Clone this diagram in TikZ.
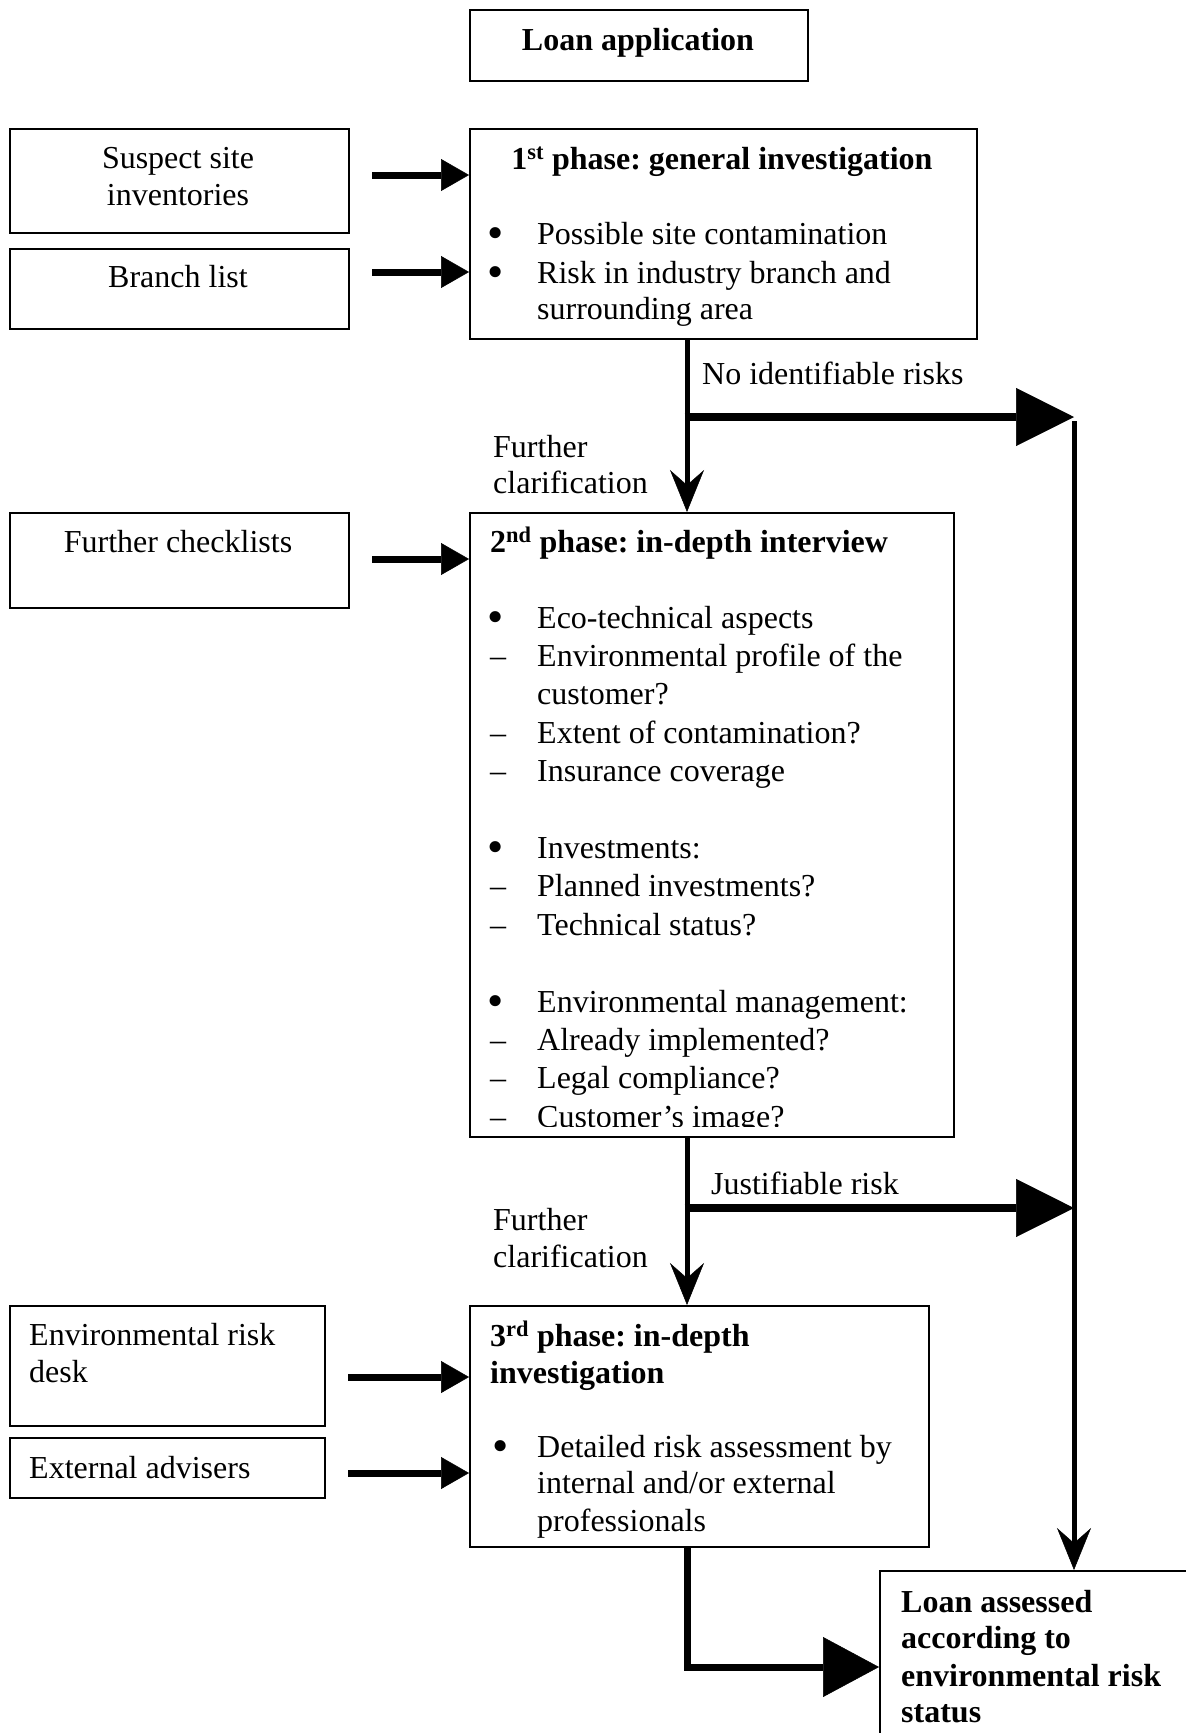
\documentclass[tikz,border=0pt]{standalone}
\usepackage{fontspec}
\usepackage{graphicx}
\setmainfont{Liberation Serif}
\usetikzlibrary{arrows.meta}
\frenchspacing
\newcommand{\bigbullet}{\scalebox{1.45}{•}}

\begin{document}
\begin{tikzpicture}[x=1pt,y=-1pt,
  box/.style={draw, line width=2pt, inner sep=0pt, anchor=north west},
  txt/.style={inner sep=0pt, anchor=base west, font=\fontsize{32}{38.4}\selectfont},
  ctxt/.style={txt, anchor=base},
  btxt/.style={txt, font=\fontsize{32}{38.4}\selectfont\bfseries},
  cbtxt/.style={btxt, anchor=base},
  bul/.style={txt, yshift=-4pt},
  feed/.style={line width=7pt, -{Triangle[length=28pt,width=32pt,line width=0.5pt]}},
  big/.style={line width=8pt, -{Triangle[length=58pt,width=58pt,line width=0.5pt]}},
  down/.style={line width=5pt, -{Stealth[length=42pt,width=34pt,inset=15pt,line width=0.5pt]}},
]
\useasboundingbox (0,0) rectangle (1186,1733);
\clip (0,0) rectangle (1186,1733);

% boxes
\node[box, minimum width=338pt, minimum height=71pt]  (app) at (469,9) {};
\node[box, minimum width=339pt, minimum height=104pt] (sus) at (9,128) {};
\node[box, minimum width=339pt, minimum height=80pt]  (bra) at (9,248) {};
\node[box, minimum width=507pt, minimum height=210pt] (p1)  at (469,128) {};
\node[box, minimum width=339pt, minimum height=95pt]  (chk) at (9,512) {};
\node[box, minimum width=484pt, minimum height=624pt] (p2)  at (469,512) {};
\node[box, minimum width=315pt, minimum height=120pt] (erd) at (9,1305) {};
\node[box, minimum width=315pt, minimum height=60pt]  (ext) at (9,1437) {};
\node[box, minimum width=459pt, minimum height=241pt] (p3)  at (469,1305) {};
\node[box, minimum width=340pt, minimum height=200pt] (fin) at (879,1570) {};

% box texts
\node[cbtxt] (tapp) at (638,50) {Loan application};
\node[ctxt] (tsus1) at (178,168) {Suspect site};
\node[ctxt] (tsus2) at (178,205) {inventories};
\node[ctxt] (tbra) at (178,287) {Branch list};
\node[cbtxt] (tp1) at (722,169) {1\textsuperscript{st} phase: general investigation};
\node[bul] (b11) at (487,244) {\bigbullet};
\node[txt] (t11) at (537,244) {Possible site contamination};
\node[bul] (b12) at (487,283) {\bigbullet};
\node[txt] (t12) at (537,283) {Risk in industry branch and};
\node[txt] (t13) at (537,319) {surrounding area};

\node[ctxt] (tchk) at (178,552) {Further checklists};
\node[btxt] (tp2) at (490,552) {2\textsuperscript{nd} phase: in-depth interview};
\begin{scope}
  \clip (470,513) rectangle (952,1126);
  % list items: line index / mark (1 bullet, 2 dash, 0 none) / text
  \foreach \k/\m/\t [count=\i] in {
      0/1/Eco-technical aspects,
      1/2/Environmental profile of the,
      2/0/customer?,
      3/2/Extent of contamination?,
      4/2/Insurance coverage,
      6/1/Investments:,
      7/2/Planned investments?,
      8/2/Technical status?,
      10/1/Environmental management:,
      11/2/Already implemented?,
      12/2/Legal compliance?,
      13/2/Customer’s image?} {
    \ifnum\m=1
      \node[bul] (m2-\i) at (487,628+\k*38.4) {\bigbullet};
    \fi
    \ifnum\m=2
      \node[txt] (m2-\i) at (490,628+\k*38.4) {–};
    \fi
    \node[txt] (t2-\i) at (537,628+\k*38.4) {\t};
  }
\end{scope}

\node[txt] (terd1) at (29,1345) {Environmental risk};
\node[txt] (terd2) at (29,1382) {desk};
\node[txt] (text) at (29,1478) {External advisers};
\node[btxt] (tp3a) at (490,1346) {3\textsuperscript{rd} phase: in-depth};
\node[btxt] (tp3b) at (490,1383) {investigation};
\node[bul] (b31) at (492,1457) {\bigbullet};
\node[txt] (t31) at (537,1457) {Detailed risk assessment by};
\node[txt] (t32) at (537,1493) {internal and/or external};
\node[txt] (t33) at (537,1531) {professionals};

\node[btxt] (tf1) at (901,1612) {Loan assessed};
\node[btxt] (tf2) at (901,1648) {according to};
\node[btxt] (tf3) at (901,1686) {environmental risk};
\node[btxt] (tf4) at (901,1722) {status};

% connector labels
\node[txt] (lno) at (702,384) {No identifiable risks};
\node[txt] (lfa1) at (493,457) {Further};
\node[txt] (lfa2) at (493,493) {clarification};
\node[txt] (lju) at (711,1194) {Justifiable risk};
\node[txt] (lfb1) at (493,1230) {Further};
\node[txt] (lfb2) at (493,1267) {clarification};

% inputs from the left
\coordinate (f1) at (372,175);
\coordinate (f2) at (372,272);
\coordinate (f3) at (372,559);
\coordinate (f4) at (348,1377);
\coordinate (f5) at (348,1473);
\draw[feed] (f1) -- (f1 -| p1.west);
\draw[feed] (f2) -- (f2 -| p1.west);
\draw[feed] (f3) -- (f3 -| p2.west);
\draw[feed] (f4) -- (f4 -| p3.west);
\draw[feed] (f5) -- (f5 -| p3.west);

% main flow
\coordinate (j1) at (687,417);
\coordinate (r1) at (1074,417);
\coordinate (j2) at (687,1208);
\coordinate (r2) at (1074,1208);
\coordinate (c3) at (687,1667);
\draw[down] (p1.south -| j1) -- (p2.north -| j1);
\draw[big] ([xshift=-2.5pt]j1) -- (r1);
\draw[down] ([yshift=-4pt]r1) -- (fin.north -| r1);
\draw[down] (p2.south -| j2) -- (p3.north -| j2);
\draw[big] ([xshift=-2.5pt]j2) -- (r2);
\draw[line width=7pt, line join=miter, -{Triangle[length=56pt,width=60pt,line width=0.5pt]}]
  (p3.south -| c3) -- (c3) -- (c3 -| fin.west);
\end{tikzpicture}
\end{document}
